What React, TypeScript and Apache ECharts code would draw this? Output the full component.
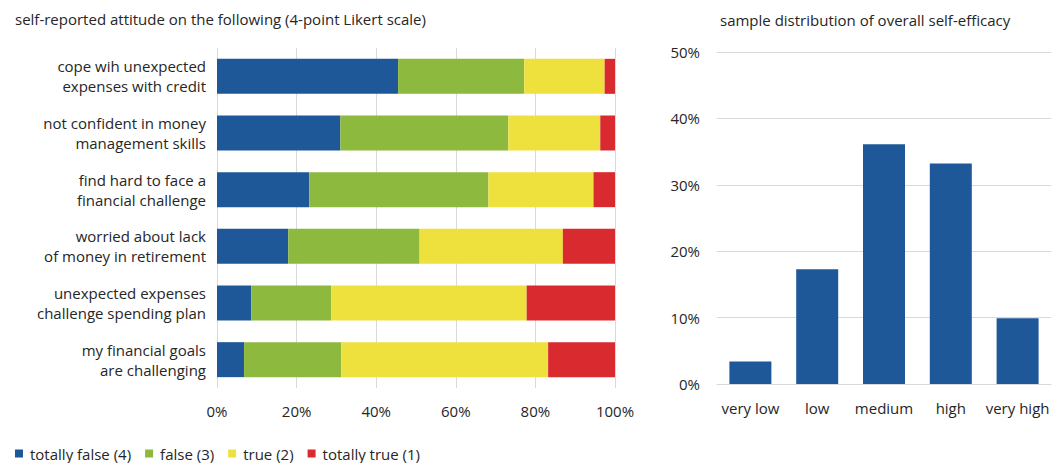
import React, { useEffect, useRef } from "react";
import * as echarts from "echarts";

const categories = [
  "cope wih unexpected\nexpenses with credit",
  "not confident in money\nmanagement skills",
  "find hard to face a\nfinancial challenge",
  "worried about lack\nof money in retirement",
  "unexpected expenses\nchallenge spending plan",
  "my financial goals\nare challenging",
];
const totallyFalse = [45.5, 31.0, 23.2, 17.9, 8.6, 6.8];
const falseVals = [31.7, 42.2, 45.0, 33.0, 20.1, 24.4];
const trueVals = [20.2, 23.1, 26.4, 36.0, 49.1, 52.0];
const totallyTrue = [2.6, 3.7, 5.4, 13.1, 22.2, 16.8];
const seriesNames = ["totally false (4)", "false (3)", "true (2)", "totally true (1)"];

const efficacyCats = ["very low", "low", "medium", "high", "very high"];
const efficacyVals = [3.4, 17.3, 36.1, 33.2, 9.9];

const COLORS = ["#1E5898", "#8EB93F", "#EFE13D", "#D92B2F"];
const FONT = "Open Sans";
const TEXT = "#262626";
const GRID = "#D9D9D9";

export default function App() {
  const ref = useRef<HTMLDivElement>(null);
  useEffect(() => {
    document.body.style.margin = "0";
    if (!ref.current) return;
    const chart = echarts.init(ref.current, undefined, { renderer: "svg" });
    const stackData = [totallyFalse, falseVals, trueVals, totallyTrue];
    chart.setOption({
      animation: false,
      backgroundColor: "#ffffff",
      textStyle: { fontFamily: FONT, color: TEXT },
      title: [
        {
          text: "self-reported attitude on the following (4-point Likert scale)",
          left: 15,
          top: 11,
          padding: 0,
          textStyle: { fontFamily: FONT, fontSize: 15, fontWeight: "normal", color: TEXT },
        },
        {
          text: "sample distribution of overall self-efficacy",
          left: 720,
          top: 12,
          padding: 0,
          textStyle: { fontFamily: FONT, fontSize: 15, fontWeight: "normal", color: TEXT },
        },
      ],
      legend: {
        left: 15,
        top: 446,
        padding: 0,
        itemWidth: 8,
        itemHeight: 8,
        itemGap: 14,
        icon: "rect",
        data: seriesNames,
        textStyle: { fontFamily: FONT, fontSize: 15, color: TEXT, padding: [0, 0, 0, 2] },
      },
      grid: [
        { left: 217, top: 48, width: 398, height: 340, containLabel: false },
        { left: 717, top: 52, width: 334, height: 332, containLabel: false },
      ],
      xAxis: [
        {
          type: "value",
          gridIndex: 0,
          min: 0,
          max: 100,
          interval: 20,
          axisLine: { show: false },
          axisTick: { show: false },
          splitLine: { show: true, lineStyle: { color: GRID, width: 1 } },
          axisLabel: {
            formatter: "{value}%",
            fontFamily: FONT,
            fontSize: 15,
            color: TEXT,
            margin: 15,
          },
        },
        {
          type: "category",
          gridIndex: 1,
          data: efficacyCats,
          axisLine: { show: true, lineStyle: { color: GRID } },
          axisTick: { show: false },
          axisLabel: { fontFamily: FONT, fontSize: 15, color: TEXT, margin: 16, interval: 0 },
        },
      ],
      yAxis: [
        {
          type: "category",
          gridIndex: 0,
          inverse: true,
          data: categories,
          axisLine: { show: false },
          axisTick: { show: false },
          axisLabel: {
            fontFamily: FONT,
            fontSize: 15,
            lineHeight: 20,
            color: TEXT,
            margin: 11,
            align: "right",
          },
        },
        {
          type: "value",
          gridIndex: 1,
          min: 0,
          max: 50,
          interval: 10,
          axisLine: { show: false },
          axisTick: { show: false },
          splitLine: { show: true, lineStyle: { color: GRID, width: 1 } },
          axisLabel: {
            formatter: "{value}%",
            fontFamily: FONT,
            fontSize: 15,
            color: TEXT,
            margin: 17,
          },
        },
      ],
      series: [
        ...seriesNames.map((name, i) => ({
          name,
          type: "bar",
          stack: "likert",
          xAxisIndex: 0,
          yAxisIndex: 0,
          barWidth: 35,
          itemStyle: { color: COLORS[i] },
          data: stackData[i],
        })),
        {
          name: "self-efficacy",
          type: "bar",
          xAxisIndex: 1,
          yAxisIndex: 1,
          barWidth: 42,
          itemStyle: { color: COLORS[0] },
          data: efficacyVals,
        },
      ],
    });
    return () => chart.dispose();
  }, []);
  return <div ref={ref} style={{ width: 1063, height: 463 }} />;
}
